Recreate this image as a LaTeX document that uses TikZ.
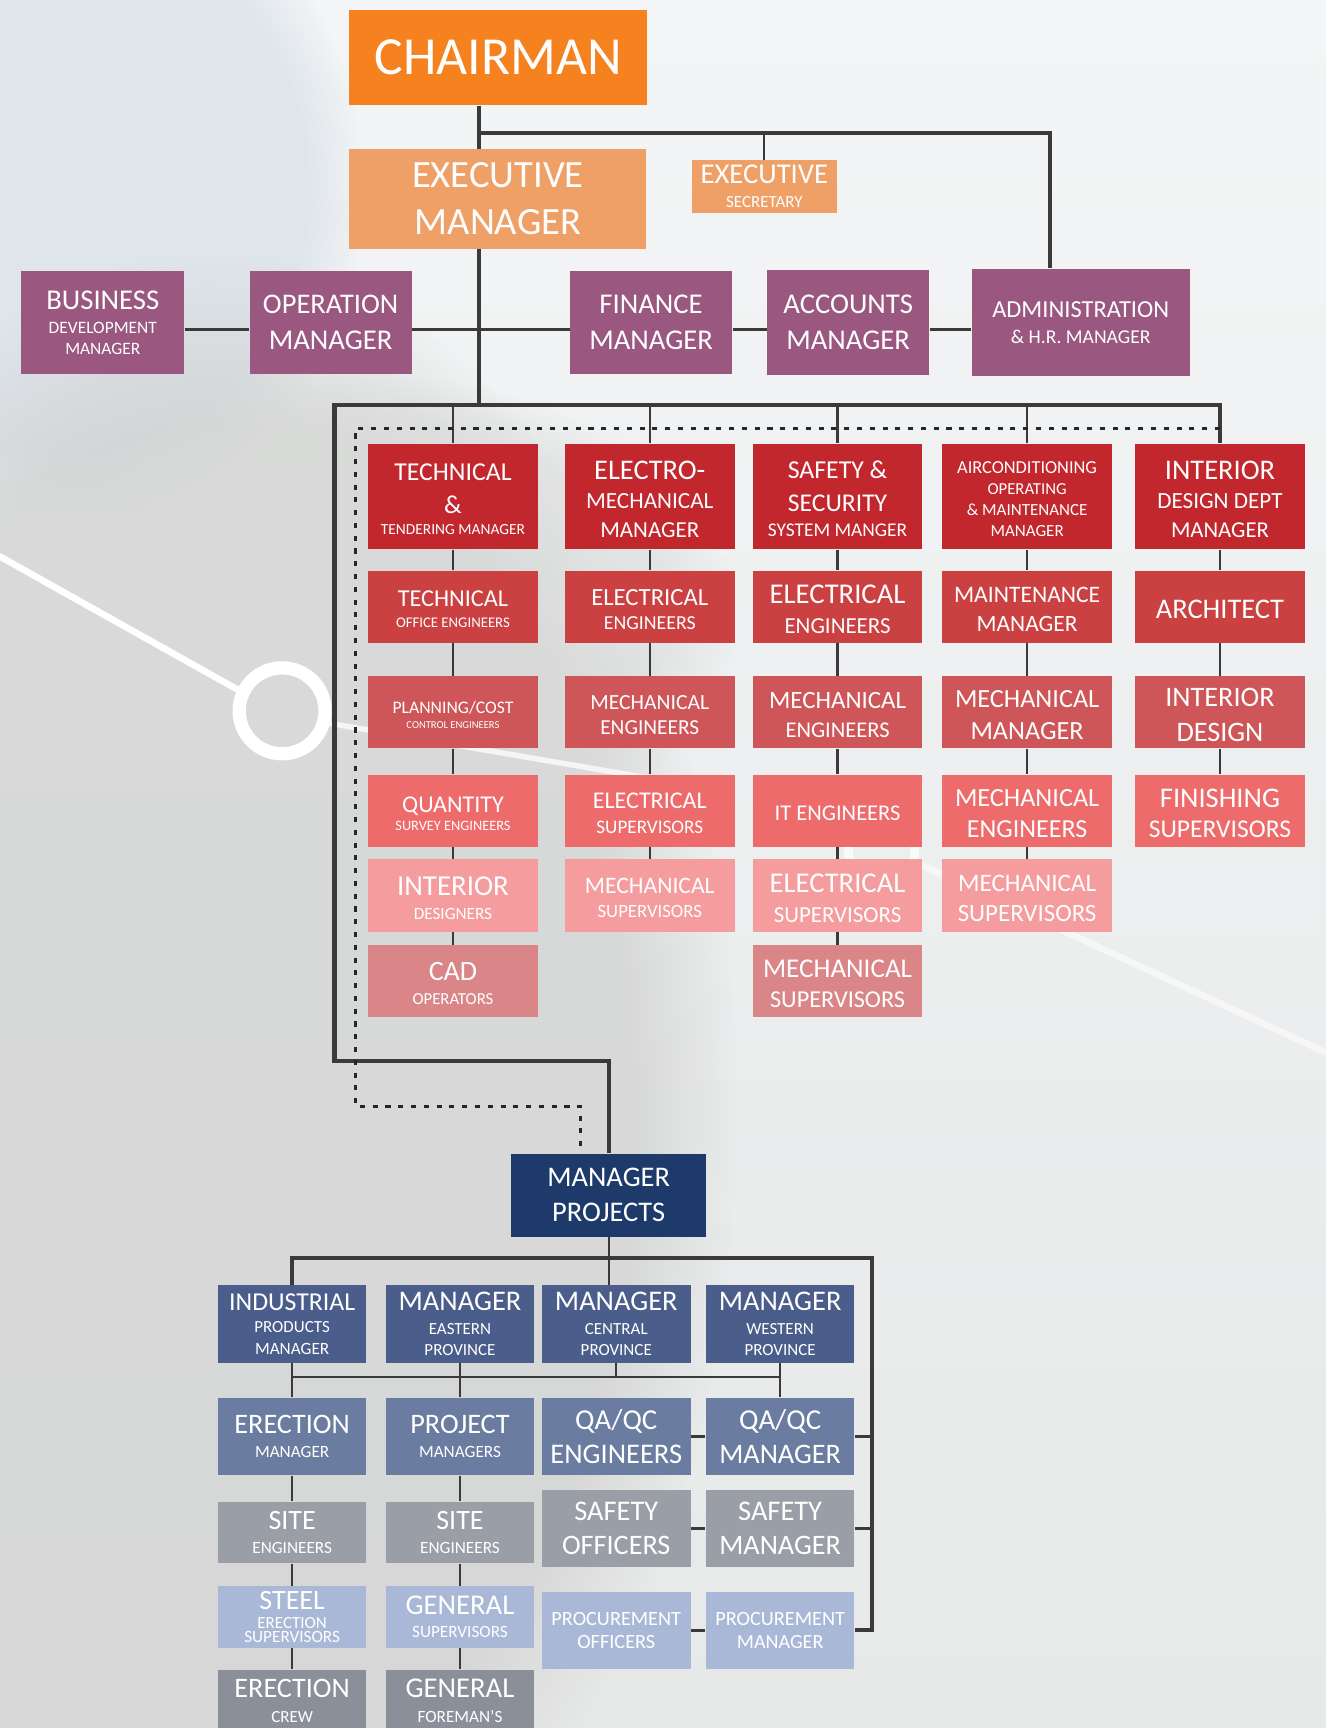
\documentclass[tikz,border=0pt]{standalone}
\usepackage{fontspec}
\setmainfont{Carlito}
\usetikzlibrary{fadings}

\definecolor{orgA}{HTML}{F5821F}
\definecolor{orgB}{HTML}{EEA066}
\definecolor{purp}{HTML}{9A5780}
\definecolor{redA}{HTML}{C1272D}
\definecolor{redB}{HTML}{CB4141}
\definecolor{redC}{HTML}{CF5658}
\definecolor{redD}{HTML}{EE6B6C}
\definecolor{redE}{HTML}{F59C9F}
\definecolor{redF}{HTML}{DA8689}
\definecolor{navy}{HTML}{1D3A6B}
\definecolor{bluA}{HTML}{4B5D8A}
\definecolor{bluB}{HTML}{6A7CA0}
\definecolor{gryA}{HTML}{9A9EA6}
\definecolor{bluC}{HTML}{A9B8D6}
\definecolor{gryB}{HTML}{8A8F9A}
\definecolor{lineC}{HTML}{3A3A3A}
\definecolor{bgTop}{HTML}{F3F5F6}
\definecolor{bgBot}{HTML}{E7E8E8}
\definecolor{fabA}{HTML}{CFD0CF}
\definecolor{fabB}{HTML}{D8E0E8}

\newcommand\fz[1]{\fontsize{#1}{0pt}\selectfont}
% first line of a red box: sits a little lower
\newcommand\fd[1]{\fz{#1}\rule{0pt}{\dimexpr\fontcharht\font`\E+2.5pt\relax}}

\tikzset{
  box/.style={inner sep=0pt, text=white, align=center, font={\fz{10}\lineskiplimit=-100pt}},
  redbox/.style={box, minimum width=77pt},
  rA/.style={redbox, fill=redA, minimum height=47.8pt},
  rB/.style={redbox, fill=redB, minimum height=32.8pt},
  rC/.style={redbox, fill=redC, minimum height=32.6pt},
  rD/.style={redbox, fill=redD, minimum height=32.8pt},
  rE/.style={redbox, fill=redE, minimum height=32.8pt},
  rF/.style={redbox, fill=redF, minimum height=32.8pt},
  pbox/.style={box, fill=purp, minimum width=73.6pt, minimum height=46.6pt},
  bluebox/.style={box, minimum width=67.4pt},
  bA/.style={bluebox, fill=bluA, minimum height=35.3pt},
  bB/.style={bluebox, fill=bluB, minimum height=35.2pt},
  gA/.style={bluebox, fill=gryA, minimum height=28pt},
  gAt/.style={bluebox, fill=gryA, minimum height=35.2pt},
  bC/.style={bluebox, fill=bluC, minimum height=28.1pt},
  bCt/.style={bluebox, fill=bluC, minimum height=35.2pt},
  gB/.style={bluebox, fill=gryB, minimum height=28pt},
  conn/.style={draw=lineC, line width=1pt},
  frame/.style={draw=lineC, line width=1.9pt},
  dotline/.style={draw=black!85, line width=1.35pt, dash pattern=on 2.3pt off 3.5pt},
}

\begin{document}
\begin{tikzpicture}[x=0.5pt,y=-0.5pt]
  \clip (0,0) rectangle (1203,1568);

  % background
  \shade[top color=bgTop, bottom color=bgBot] (0,0) rectangle (1203,1568);
  \fill[fabB, opacity=.7, path fading=circle with fuzzy edge 20 percent] (70,170) ellipse [x radius=130pt, y radius=150pt];
  \fill[fabA, opacity=.7, path fading=circle with fuzzy edge 20 percent] (190,1010) ellipse [x radius=240pt, y radius=390pt];
  \fill[fabA!80!white, opacity=.55, path fading=circle with fuzzy edge 20 percent] (330,560) ellipse [x radius=170pt, y radius=110pt];
  \draw[white, line width=3pt, line cap=round] (0,505) -- (216,626);
  \draw[white, line width=6pt] (256,645) circle [radius=19.5pt];
  \draw[white, opacity=.75, line width=2.5pt] (297,656) -- (600,708);
  \draw[white, opacity=.7, line width=4pt] (800,772) circle [radius=15pt];
  \draw[white, opacity=.55, line width=3pt] (830,782) -- (1203,955);

  % top
  \node[box, fill=orgA, minimum width=135pt, minimum height=43.2pt] (chair) at (452,52.2) {\fz{24.3}CHAIRMAN};
  \node[box, fill=orgB, minimum width=134.8pt, minimum height=45.2pt] (exec) at (451.8,180.4)
    {\fz{17.5}EXECUTIVE\\[21.4pt]\fz{17.5}MANAGER};
  \node[box, fill=orgB, minimum width=66pt, minimum height=23.9pt] (sec) at (693.6,169.1)
    {\fz{13}EXECUTIVE\\[11.1pt]\fz{7.7}SECRETARY};

  \node[pbox, minimum width=74pt] (bus) at (93.3,292.5)
    {\fz{13}BUSINESS\\[10.9pt]\fz{7.9}DEVELOPMENT\\[9.5pt]\fz{7.9}MANAGER};
  \node[pbox] (oper) at (300,292.5) {\fz{12.9}OPERATION\\[15.9pt]\fz{13}MANAGER};
  \node[pbox] (fin) at (590.8,292.5) {\fz{13}FINANCE\\[16pt]\fz{13}MANAGER};
  \node[pbox, minimum height=47.5pt] (acc) at (769.6,292.5) {\fz{13}ACCOUNTS\\[16pt]\fz{13}MANAGER};
  \node[pbox, minimum width=99pt, minimum height=48.4pt] (adm) at (980.6,292.4)
    {\fz{11.1}ADMINISTRATION\\[11.75pt]\fz{8.9}\& H.R. MANAGER};

  % red columns
  \node[rA] (tech) at (411,450.5) {\fd{11.7}TECHNICAL\\[14.9pt]\fz{11.7}\&\\[9.2pt]\fz{7}TENDERING MANAGER};
  \node[rB] (techoff) at (411,550.7) {\fd{11}TECHNICAL\\[9.6pt]\fz{6.7}OFFICE ENGINEERS};
  \node[rC] (plan) at (411,646.4) {\fd{8}PLANNING/COST\\[6.75pt]\fz{4.8}CONTROL ENGINEERS};
  \node[rD] (qty) at (411,735.8) {\fd{10.9}QUANTITY\\[8.4pt]\fz{6.5}SURVEY ENGINEERS};
  \node[rE] (intdes) at (411,812.5) {\fd{13.1}INTERIOR\\[10.7pt]\fz{7.8}DESIGNERS};
  \node[rF] (cad) at (411,890.3) {\fd{12.7}CAD\\[11pt]\fz{7.6}OPERATORS};

  \node[rA] (em) at (589.6,450.5) {\fd{12.9}ELECTRO-\\[13.5pt]\fz{10.5}MECHANICAL\\[12.95pt]\fz{10.4}MANAGER};
  \node[rB] (emelec) at (589.6,550.7) {\fd{11.2}ELECTRICAL\\[11.3pt]\fz{9}ENGINEERS};
  \node[rC] (emmech) at (589.6,646.4) {\fd{9.8}MECHANICAL\\[11.65pt]\fz{9.7}ENGINEERS};
  \node[rD] (emelsup) at (589.6,735.8) {\fd{10.9}ELECTRICAL\\[11.35pt]\fz{8.7}SUPERVISORS};
  \node[rE] (emmechsup) at (589.6,812.5) {\fd{10.7}MECHANICAL\\[10.8pt]\fz{8.5}SUPERVISORS};

  \node[rA] (saf) at (760,450.5) {\fd{11.7}SAFETY \&\\[14.6pt]\fz{11.6}SECURITY\\[11.35pt]\fz{8.8}SYSTEM MANGER};
  \node[rB] (safelec) at (760,550.7) {\fd{13}ELECTRICAL\\[13.6pt]\fz{10.4}ENGINEERS};
  \node[rC] (safmech) at (760,646.4) {\fd{11.3}MECHANICAL\\[13.2pt]\fz{10.2}ENGINEERS};
  \node[rD] (safit) at (760,735.8) {\fd{10.2}IT ENGINEERS};
  \node[rE] (safelsup) at (760,812.5) {\fd{13}ELECTRICAL\\[13.6pt]\fz{10.4}SUPERVISORS};
  \node[rF] (safmechsup) at (760,890.3) {\fd{12.3}MECHANICAL\\[14pt]\fz{11}SUPERVISORS};

  \node[rA] (ac) at (932,450.5) {\fd{8.3}AIRCONDITIONING\\[9.6pt]\fz{7.6}OPERATING\\[9.65pt]\fz{7.7}\& MAINTENANCE\\[9.45pt]\fz{7.7}MANAGER};
  \node[rB] (acmaint) at (932,550.7) {\fd{10.7}MAINTENANCE\\[13pt]\fz{10.6}MANAGER};
  \node[rC] (acmech) at (932,646.4) {\fd{11.9}MECHANICAL\\[14.45pt]\fz{11.9}MANAGER};
  \node[rD] (acmecheng) at (932,735.8) {\fd{11.9}MECHANICAL\\[14.25pt]\fz{11.8}ENGINEERS};
  \node[rE] (acmechsup) at (932,812.5) {\fd{11.4}MECHANICAL\\[13.55pt]\fz{11.3}SUPERVISORS};

  \node[rA] (idm) at (1107,450.5) {\fd{12.9}INTERIOR\\[13.5pt]\fz{10.5}DESIGN DEPT\\[12.95pt]\fz{10.3}MANAGER};
  \node[rB] (arch) at (1107,550.7) {\fd{12.9}ARCHITECT};
  \node[rC] (intd) at (1107,646.4) {\fd{12.8}INTERIOR\\[15.6pt]\fz{12.8}DESIGN};
  \node[rD] (finsup) at (1107,735.8) {\fd{12.9}FINISHING\\[13.7pt]\fz{11.6}SUPERVISORS};

  % projects
  \node[box, fill=navy, minimum width=88.7pt, minimum height=37.5pt] (mp) at (552.3,1084.5)
    {\fz{12.9}MANAGER\\[16pt]\fz{12.9}PROJECTS};

  \node[bA] (ind) at (265.1,1201.4) {\fz{11.7}INDUSTRIAL\\[10.3pt]\fz{7.7}PRODUCTS\\[9.85pt]\fz{7.8}MANAGER};
  \node[bA] (east) at (417.4,1201.4) {\fz{12.9}MANAGER\\[10.7pt]\fz{7.7}EASTERN\\[9.7pt]\fz{7.7}PROVINCE};
  \node[bA] (cent) at (559.2,1201.4) {\fz{12.9}MANAGER\\[10.7pt]\fz{7.7}CENTRAL\\[9.7pt]\fz{7.7}PROVINCE};
  \node[bA] (west) at (707.9,1201.4) {\fz{12.9}MANAGER\\[10.7pt]\fz{7.7}WESTERN\\[9.7pt]\fz{7.7}PROVINCE};

  \node[bB] (erm) at (265.1,1303.6) {\fz{12.8}ERECTION\\[11.1pt]\fz{7.8}MANAGER};
  \node[bB] (pjm) at (417.4,1303.6) {\fz{12.8}PROJECT\\[11.1pt]\fz{7.8}MANAGERS};
  \node[bB] (qae) at (559.2,1303.6) {\fz{13.1}QA/QC\\[15.3pt]\fz{12.9}ENGINEERS};
  \node[bB] (qam) at (707.9,1303.6) {\fz{13.1}QA/QC\\[15.3pt]\fz{12.8}MANAGER};

  \node[gA] (site1) at (265.1,1390.7) {\fz{12.7}SITE\\[11.2pt]\fz{7.8}ENGINEERS};
  \node[gA] (site2) at (417.4,1390.7) {\fz{12.7}SITE\\[11.2pt]\fz{7.8}ENGINEERS};
  \node[gAt] (so) at (559.2,1386.9) {\fz{12.9}SAFETY\\[15.8pt]\fz{12.8}OFFICERS};
  \node[gAt] (sm) at (707.9,1386.9) {\fz{12.9}SAFETY\\[15.8pt]\fz{12.8}MANAGER};

  \node[bC] (steel) at (265.1,1467.2) {\fz{12.7}STEEL\\[8.4pt]\fz{7.7}ERECTION\\[6.5pt]\fz{7.8}SUPERVISORS};
  \node[bC] (gsup) at (417.4,1467.2) {\fz{13}GENERAL\\[10.6pt]\fz{7.8}SUPERVISORS};
  \node[bCt] (po) at (559.2,1479.4) {\fz{9.2}PROCUREMENT\\[10.7pt]\fz{9.2}OFFICERS};
  \node[bCt] (pm) at (707.9,1479.4) {\fz{9.2}PROCUREMENT\\[10.7pt]\fz{9.1}MANAGER};

  \node[gB] (crew) at (265.1,1543) {\fz{12.8}ERECTION\\[11.4pt]\fz{7.7}CREW};
  \node[gB] (gfor) at (417.4,1543) {\fz{13}GENERAL\\[11.4pt]\fz{7.8}FOREMAN’S};

  % connectors, top
  \coordinate (spine) at (435,121);
  \coordinate (fnw) at (303.5,367.5);
  \coordinate (fsw) at (303.5,963);
  \coordinate (prow) at (0,299);
  \draw[frame] (chair.south -| spine) -- (exec.north -| spine);
  \draw[frame] (spine) -| ([xshift=-13.9pt]adm.north);
  \draw[conn] (sec.north) -- (sec.north |- spine);
  \draw[frame] (exec.south -| spine) -- (spine |- fnw);
  \draw[conn] (bus.east |- prow) -- (oper.west |- prow);
  \draw[conn] (oper.east |- prow) -- (fin.west |- prow);
  \draw[conn] (fin.east |- prow) -- (acc.west |- prow);
  \draw[conn, line width=1.3pt] (acc.east |- prow) -- (adm.west |- prow);

  % frame round the departments
  \draw[frame] (idm.north) |- (fnw) -- (fsw) -| (mp.north);
  \foreach \n in {tech,em,saf,ac}
    \draw[conn] (\n.north) -- (\n.north |- fnw);
  \coordinate (dnw) at (322.5,389);
  \coordinate (dsw) at (322.5,1004);
  \draw[dotline] (idm.north |- dnw) -- (dnw) -- (dsw) -| ([xshift=-12.6pt]mp.north);

  \foreach \a/\b in {tech/techoff,techoff/plan,plan/qty,qty/intdes,intdes/cad,
      em/emelec,emelec/emmech,emmech/emelsup,emelsup/emmechsup,
      saf/safelec,safelec/safmech,safmech/safit,safit/safelsup,safelsup/safmechsup,
      ac/acmaint,acmaint/acmech,acmech/acmecheng,acmecheng/acmechsup,
      idm/arch,arch/intd,intd/finsup}
    \draw[conn] (\a.south) -- (\b.north);

  % connectors, projects
  \coordinate (bfr) at (791,1141.8);
  \coordinate (bbus) at (0,1249.6);
  \draw[conn] (mp.south) -- (mp.south |- cent.north);
  \draw[frame] (ind.north) |- (bfr) |- (pm.east);
  \draw[conn] (ind.south |- bbus) -- (west.south |- bbus);
  \draw[conn] (cent.south) -- (cent.south |- bbus);
  \foreach \a/\b in {ind/erm,east/pjm,west/qam,erm/site1,site1/steel,steel/crew,
      pjm/site2,site2/gsup,gsup/gfor}
    \draw[conn, line width=1.2pt] (\a.south) -- (\b.north);
  \foreach \a/\b in {qae/qam,so/sm,po/pm}
    \draw[conn, line width=1.2pt] (\a.east) -- (\b.west);
  \draw[conn, line width=1.2pt] (qam.east) -- (qam.east -| bfr);
  \draw[conn, line width=1.2pt] (sm.east) -- (sm.east -| bfr);
\end{tikzpicture}
\end{document}
